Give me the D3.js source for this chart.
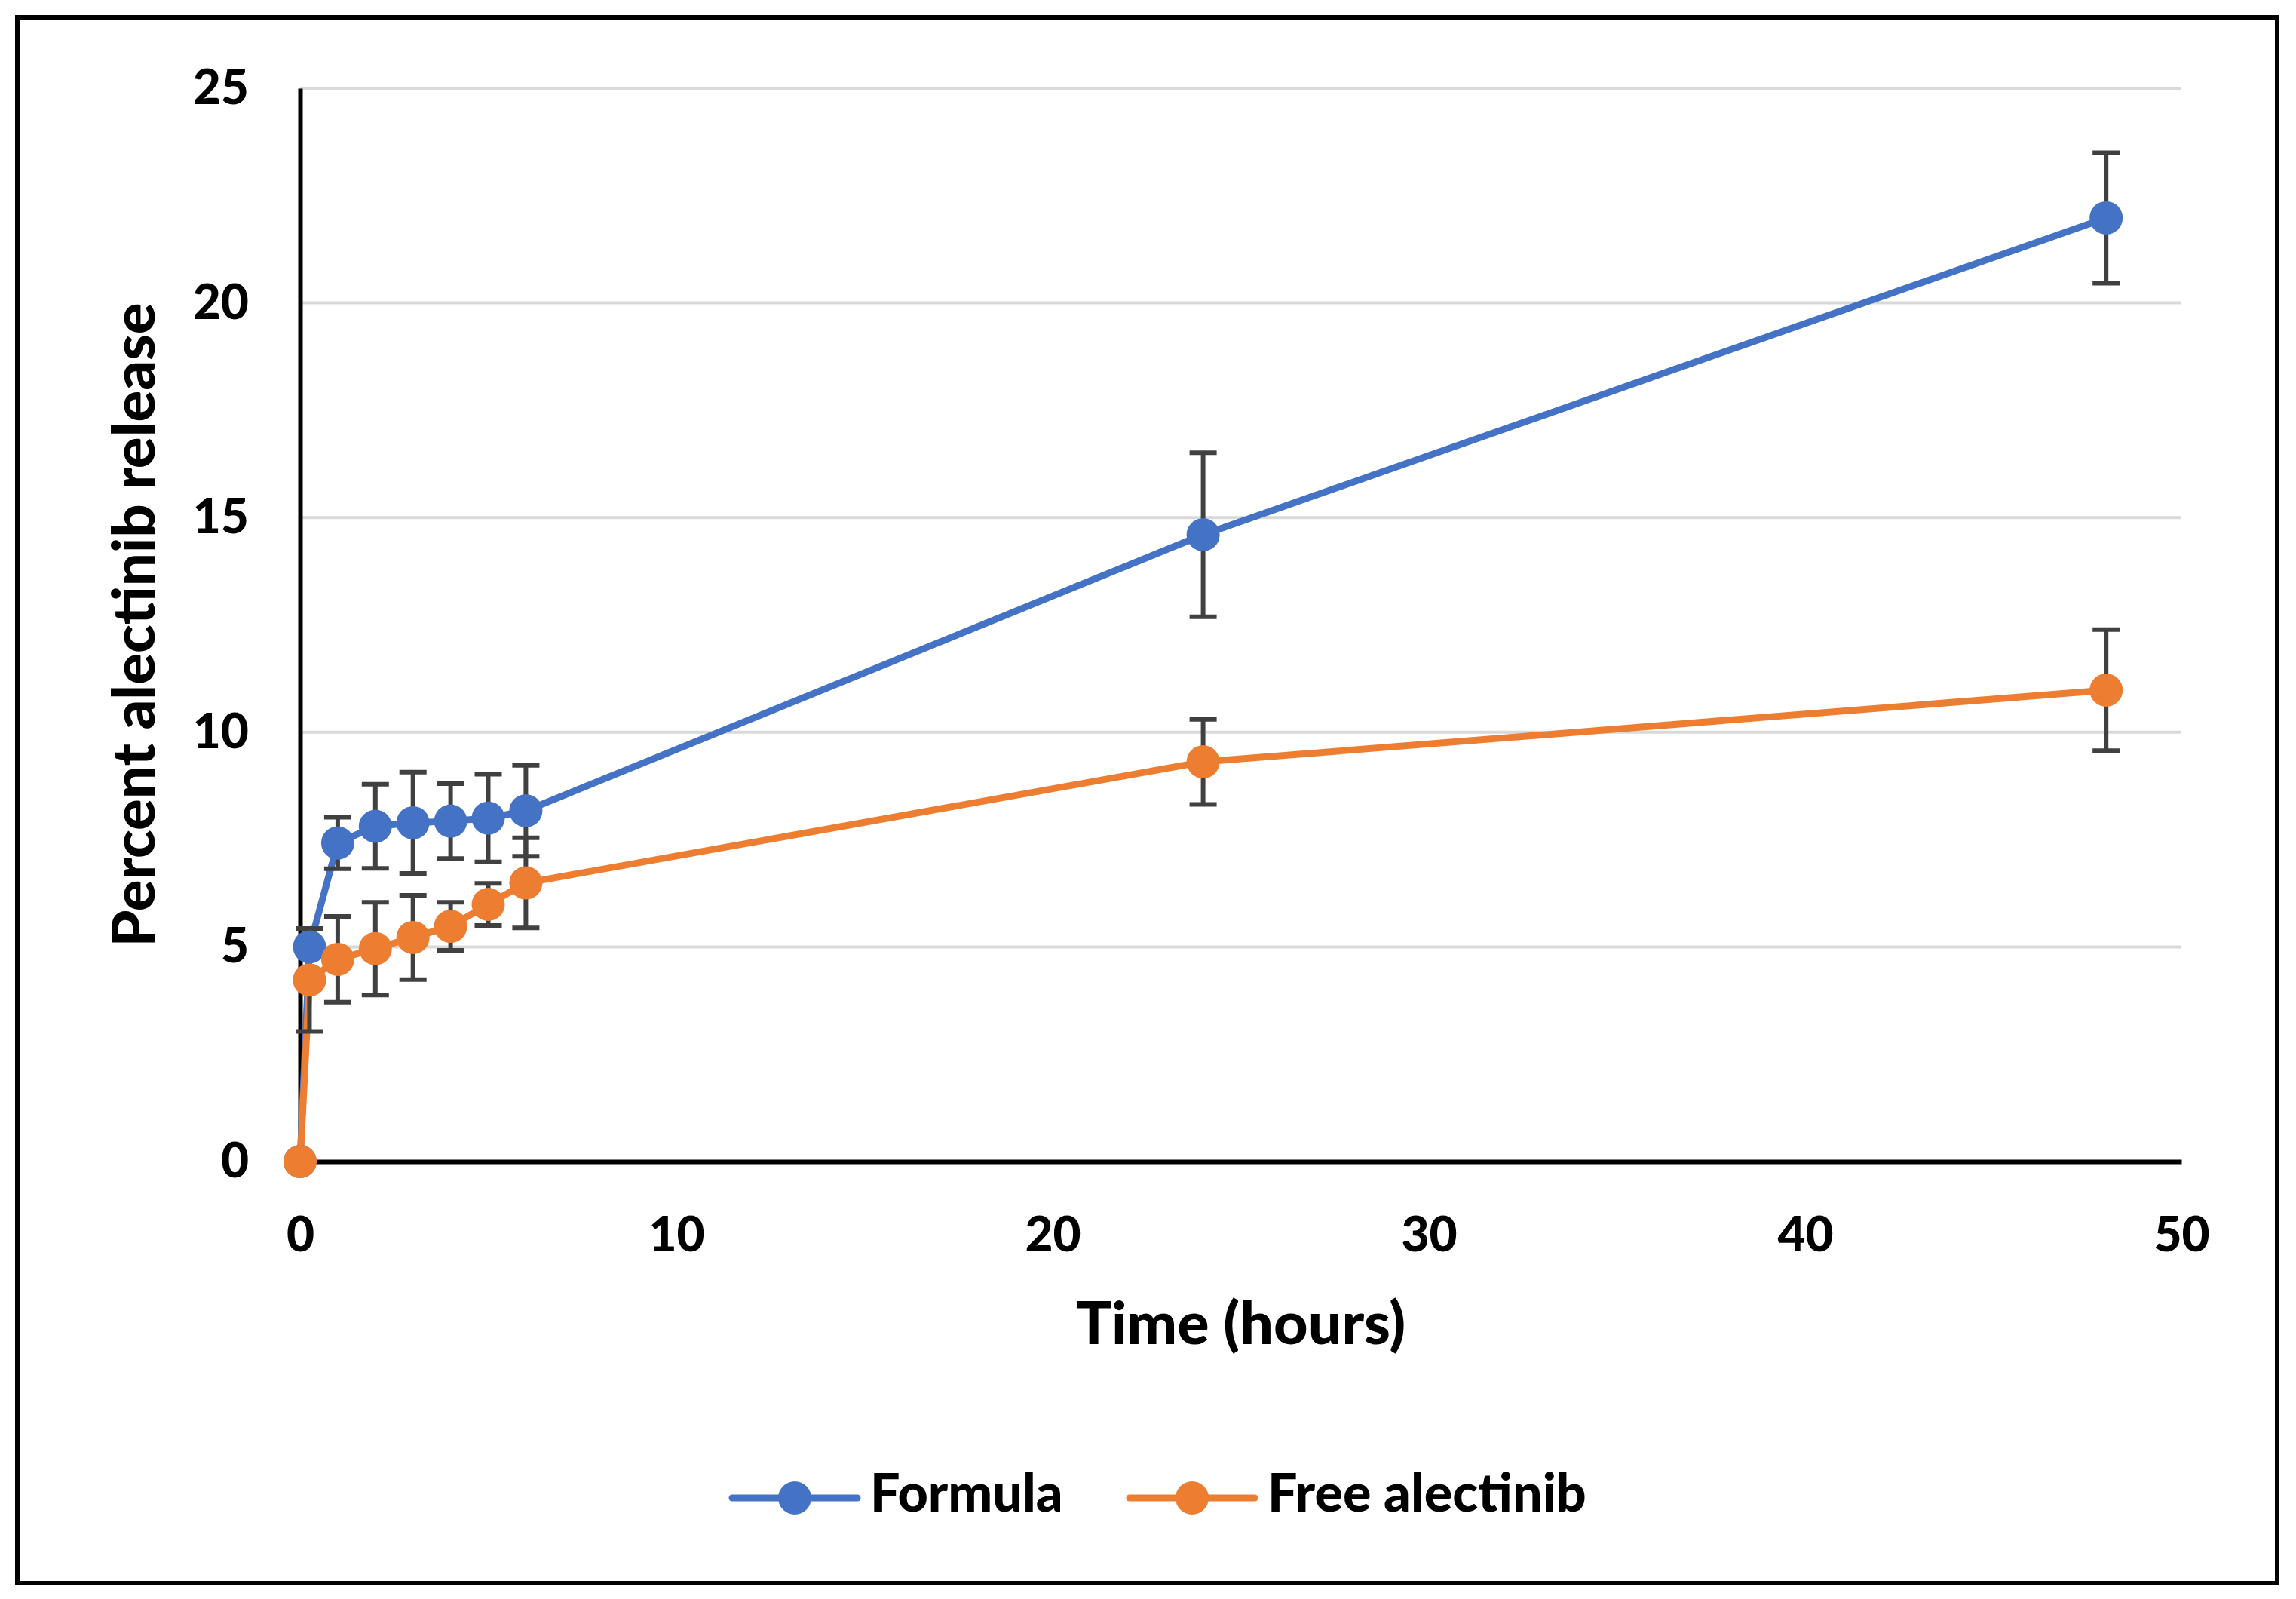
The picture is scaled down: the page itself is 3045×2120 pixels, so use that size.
<!DOCTYPE html>
<html>
<head>
<meta charset="utf-8">
<script src="https://cdn.jsdelivr.net/npm/d3@7"></script>
<style>
  html, body { margin: 0; padding: 0; background: #fff; }
  svg { display: block; }
  text { font-family: Lato, "Open Sans", sans-serif; font-weight: 900; fill: #000; }
</style>
</head>
<body>
<svg id="chart" width="3045" height="2120"></svg>
<script>
// ---- data ----
const times = [0, 0.25, 1, 2, 3, 4, 5, 6, 24, 48];
const formulaValues = [0, 5.0, 7.42, 7.81, 7.89, 7.93, 8.0, 8.17, 14.6, 21.98];
const formulaErrors = [0, 0, 0.6, 0.98, 1.18, 0.87, 1.02, 1.06, 1.91, 1.52];
const freeValues = [0, 4.23, 4.71, 4.96, 5.22, 5.48, 5.99, 6.49, 9.31, 10.98];
const freeErrors = [0, 1.2, 1.0, 1.08, 0.98, 0.56, 0.49, 1.05, 0.99, 1.41];
const seriesNames = ["Formula", "Free alectinib"];
const xTicks = [0, 10, 20, 30, 40, 50];
const yTicks = [0, 5, 10, 15, 20, 25];
const xTitle = "Time (hours)";
const yTitle = "Percent alectinib release";

const colors = ["#4472C4", "#ED7D31"];
const series = [
  { name: seriesNames[0], values: formulaValues, errors: formulaErrors, color: colors[0] },
  { name: seriesNames[1], values: freeValues, errors: freeErrors, color: colors[1] }
];

const svg = d3.select("#chart");

// outer frame
svg.append("rect").attr("x", 23).attr("y", 23).attr("width", 2997).attr("height", 2076)
  .attr("fill", "#fff").attr("stroke", "#000").attr("stroke-width", 6);

const x = d3.scaleLinear().domain([0, 50]).range([398, 2893]);
const y = d3.scaleLinear().domain([0, 25]).range([1540, 117]);

// gridlines
svg.append("g").selectAll("line").data(yTicks.filter(d => d > 0)).join("line")
  .attr("x1", x(0)).attr("x2", x(50))
  .attr("y1", d => y(d)).attr("y2", d => y(d))
  .attr("stroke", "#D9D9D9").attr("stroke-width", 4);

// axes
const yAxis = svg.append("g").attr("transform", `translate(${x(0)},0)`)
  .call(d3.axisLeft(y).tickValues(yTicks).tickSize(0).tickPadding(68).tickFormat(d3.format("d")));
yAxis.select(".domain").attr("stroke", "#000").attr("stroke-width", 6);
yAxis.selectAll("text").attr("font-size", 64).style("font-family", "Lato, sans-serif").style("font-weight", "900");

const xAxis = svg.append("g").attr("transform", `translate(0,${y(0)})`)
  .call(d3.axisBottom(x).tickValues(xTicks).tickSize(0).tickPadding(102).tickFormat(d3.format("d")));
xAxis.select(".domain").attr("stroke", "#000").attr("stroke-width", 6);
xAxis.selectAll("text").attr("font-size", 64).attr("dy", "0").attr("dominant-baseline", "middle")
  .style("font-family", "Lato, sans-serif").style("font-weight", "900");

// axis titles
svg.append("text").attr("x", x(25)).attr("y", 1762).attr("text-anchor", "middle")
  .attr("dominant-baseline", "middle").attr("font-size", 79).text(xTitle);
svg.append("text").attr("transform", `translate(185,${y(12.5)}) rotate(-90)`)
  .attr("text-anchor", "middle").attr("dominant-baseline", "middle")
  .attr("font-size", 78).text(yTitle);

const line = d3.line().x((d, i) => x(times[i])).y(d => y(d));

// lines
series.forEach(s => {
  svg.append("path").datum(s.values).attr("d", line)
    .attr("fill", "none").attr("stroke", s.color).attr("stroke-width", 9)
    .attr("stroke-linejoin", "round");
});

// error bars
const cap = 18;
series.forEach(s => {
  const g = svg.append("g").attr("stroke", "#404040").attr("stroke-width", 6);
  const pts = s.values.map((v, i) => ({ t: times[i], v, e: s.errors[i] })).filter(d => d.e > 0);
  g.selectAll(".v").data(pts).join("line")
    .attr("x1", d => x(d.t)).attr("x2", d => x(d.t))
    .attr("y1", d => y(d.v - d.e)).attr("y2", d => y(d.v + d.e));
  g.selectAll(".t").data(pts).join("line")
    .attr("x1", d => x(d.t) - cap).attr("x2", d => x(d.t) + cap)
    .attr("y1", d => y(d.v + d.e)).attr("y2", d => y(d.v + d.e));
  g.selectAll(".b").data(pts).join("line")
    .attr("x1", d => x(d.t) - cap).attr("x2", d => x(d.t) + cap)
    .attr("y1", d => y(d.v - d.e)).attr("y2", d => y(d.v - d.e));
});

// markers
series.forEach(s => {
  svg.append("g").selectAll("circle").data(s.values).join("circle")
    .attr("cx", (d, i) => x(times[i])).attr("cy", d => y(d))
    .attr("r", 22).attr("fill", s.color);
});

// legend
const legendY = 1986;
const legendItems = [
  { s: series[0], x0: 971 },
  { s: series[1], x0: 1498 }
];
legendItems.forEach(it => {
  const g = svg.append("g");
  g.append("line").attr("x1", it.x0).attr("x2", it.x0 + 166)
    .attr("y1", legendY).attr("y2", legendY)
    .attr("stroke", it.s.color).attr("stroke-width", 9).attr("stroke-linecap", "round");
  g.append("circle").attr("cx", it.x0 + 83).attr("cy", legendY).attr("r", 22).attr("fill", it.s.color);
  g.append("text").attr("x", it.x0 + 183).attr("y", legendY)
    .attr("dominant-baseline", "middle").attr("font-size", 70).text(it.s.name);
});
</script>
</body>
</html>
